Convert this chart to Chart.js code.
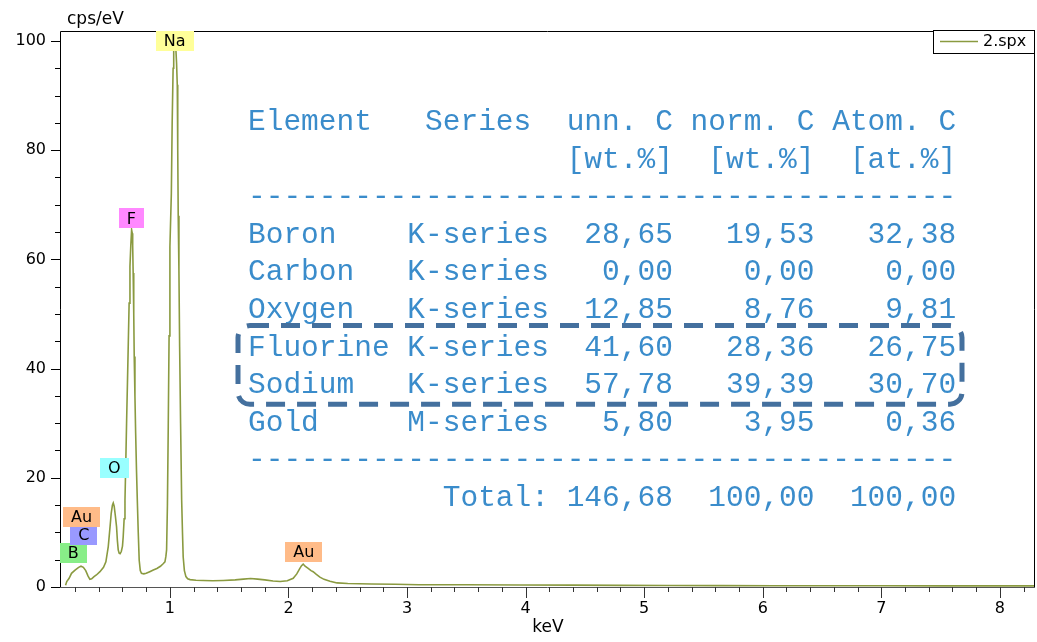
<!DOCTYPE html>
<html><head><meta charset="utf-8">
<script src="https://cdn.jsdelivr.net/npm/chart.js@4/dist/chart.umd.min.js"></script>
<style>html,body{margin:0;padding:0;background:#fff;overflow:hidden}#wrap{width:1037px;height:642px}</style>
</head><body><div id="wrap"><canvas id="c" width="1037" height="642"></canvas></div>
<script>
// ---- data ----
const energyKeV = [0.12,0.13,0.15,0.17,0.2,0.23,0.25,0.27,0.29,0.31,0.325,0.34,0.36,0.38,0.41,0.44,0.46,0.48,0.495,0.505,0.515,0.522,0.53,0.54,0.55,0.557,0.564,0.572,0.58,0.59,0.6,0.606,0.614,0.621,0.628,0.635,0.642,0.649,0.656,0.663,0.67,0.677,0.682,0.686,0.69,0.695,0.699,0.705,0.711,0.718,0.725,0.733,0.741,0.75,0.76,0.78,0.8,0.83,0.86,0.89,0.92,0.945,0.958,0.966,0.972,0.979,0.986,0.993,1.0,1.012,1.019,1.027,1.032,1.04,1.048,1.056,1.062,1.066,1.07,1.076,1.082,1.09,1.099,1.106,1.112,1.122,1.135,1.15,1.17,1.22,1.28,1.36,1.45,1.55,1.62,1.68,1.74,1.8,1.87,1.93,1.99,2.04,2.07,2.096,2.11,2.124,2.14,2.166,2.19,2.208,2.235,2.265,2.3,2.35,2.41,2.5,2.7,2.9,3.1,3.5,3.95,4.4,4.8,5.2,5.65,6.1,6.5,7.0,7.5,8.0,8.3];
const countsCps = [0.3,1.0,1.6,2.5,3.1,3.6,3.8,3.6,3.0,2.0,1.4,1.5,1.9,2.2,2.8,3.6,4.6,7.4,11.0,13.5,15.0,15.4,14.8,13.0,11.0,8.5,6.8,6.2,6.1,6.5,7.5,9.2,12.5,15.9,23.0,30.6,37.5,44.7,52.0,58.7,62.5,65.4,64.8,62.5,57.5,50.0,42.2,35.0,28.2,21.5,15.9,10.0,4.9,3.0,2.5,2.4,2.5,2.8,3.1,3.4,3.8,4.3,4.6,5.6,6.8,15.0,29.4,46.0,62.3,72.0,85.0,95.0,99.5,101.2,99.5,96.0,92.0,80.0,68.0,58.0,44.0,30.0,16.0,10.0,5.5,3.0,1.9,1.5,1.35,1.25,1.2,1.15,1.2,1.3,1.45,1.55,1.45,1.3,1.1,1.0,1.15,1.6,2.4,3.4,3.9,4.2,3.8,3.4,3.0,2.8,2.3,1.8,1.4,1.05,0.75,0.65,0.55,0.5,0.4,0.4,0.37,0.34,0.3,0.28,0.25,0.24,0.23,0.22,0.21,0.2,0.2];
const xTickValues = [1,2,3,4,5,6,7,8];
const yTickValues = [0,20,40,60,80,100];
const seriesName = '2.spx';
const peakNames = ['B','C','Au','O','F','Na','Au'];
const peakEnergy = [0.185,0.275,0.255,0.53,0.675,1.04,2.13];
const peakLabelY = [6.2,9.5,12.8,21.8,67.5,100,6.4];
const peakColors = ['#88ee88','#9999ff','#ffbb88','#99ffff','#ff88ff','#ffff99','#ffbb88'];
const tableLines = [
 'Element   Series  unn. C norm. C Atom. C',
 '                  [wt.%]  [wt.%]  [at.%]',
 '----------------------------------------',
 'Boron    K-series  28,65   19,53   32,38',
 'Carbon   K-series   0,00    0,00    0,00',
 'Oxygen   K-series  12,85    8,76    9,81',
 'Fluorine K-series  41,60   28,36   26,75',
 'Sodium   K-series  57,78   39,39   30,70',
 'Gold     M-series   5,80    3,95    0,36',
 '----------------------------------------',
 '           Total: 146,68  100,00  100,00'
];
const highlightRows = [6,7];

const LINE = '#8a9a40';
const FONT = '"DejaVu Sans", Verdana, sans-serif';

const deco = {
  id:'deco',
  afterDraw(chart){
    const ctx = chart.ctx, xs = chart.scales.x, ys = chart.scales.y, a = chart.chartArea;
    ctx.save();
    // frame
    ctx.lineWidth = 1;
    ctx.strokeStyle = '#000';
    ctx.beginPath();
    ctx.moveTo(a.left+0.5, a.bottom); ctx.lineTo(a.left+0.5, a.top+0.5);
    ctx.lineTo(a.right-0.5, a.top+0.5); ctx.lineTo(a.right-0.5, a.bottom);
    ctx.stroke();
    ctx.strokeStyle = '#555';
    ctx.beginPath(); ctx.moveTo(a.left, a.bottom+0.5); ctx.lineTo(a.right, a.bottom+0.5); ctx.stroke();
    // x ticks
    ctx.strokeStyle = '#333';
    ctx.beginPath();
    for (let k=1;k<=41;k++){
      const v = k*0.2; const px = Math.round(xs.getPixelForValue(v))+0.5;
      if (px < a.left || px > a.right) continue;
      const len = (k%5===0)?11:5;
      ctx.moveTo(px, a.bottom); ctx.lineTo(px, a.bottom+len);
    }
    ctx.stroke();
    // y ticks
    ctx.strokeStyle = '#000';
    ctx.beginPath();
    for (let v=0; v<=100; v+=5){
      const py = Math.round(ys.getPixelForValue(v))+0.5;
      const len = (v%20===0)?9:5;
      ctx.moveTo(a.left, py); ctx.lineTo(a.left-len, py);
    }
    ctx.stroke();
    // axis titles
    ctx.fillStyle = '#000';
    ctx.font = '17px '+FONT;
    ctx.textBaseline = 'middle';
    ctx.textAlign = 'left';
    ctx.fillText('cps/eV', 67, 20);
    ctx.textAlign = 'center';
    ctx.fillText('keV', 548, 628);
    // peak labels
    ctx.font = '16px '+FONT;
    peakNames.forEach((n,i)=>{
      const cx = xs.getPixelForValue(peakEnergy[i]), cy = ys.getPixelForValue(peakLabelY[i]);
      const w = ctx.measureText(n).width + 16, h = 20;
      ctx.fillStyle = peakColors[i];
      ctx.fillRect(Math.round(cx-w/2), Math.round(cy-h/2), Math.round(w), h);
      ctx.fillStyle = '#000';
      ctx.fillText(n, cx, cy+1);
    });
    // legend
    ctx.fillStyle = '#fff';
    ctx.fillRect(933.5, 30.5, 101, 23);
    ctx.strokeStyle = '#000';
    ctx.strokeRect(933.5, 30.5, 101, 23);
    ctx.strokeStyle = LINE; ctx.lineWidth = 1.5;
    ctx.beginPath(); ctx.moveTo(940, 41.5); ctx.lineTo(978, 41.5); ctx.stroke();
    ctx.fillStyle = '#000'; ctx.textAlign = 'left'; ctx.font = '16px '+FONT;
    ctx.fillText(seriesName, 983, 42);
    // table
    ctx.font = '29.5px "Liberation Mono", "Courier New", monospace';
    ctx.fillStyle = '#3a8ccb';
    ctx.textBaseline = 'alphabetic';
    ctx.textAlign = 'left';
    const tx = 248, ty0 = 130, lh = 37.6;
    tableLines.forEach((s,i)=> ctx.fillText(s, tx, ty0 + i*lh));
    // dashed highlight box
    const r0 = highlightRows[0], r1 = highlightRows[highlightRows.length-1];
    const bx = 238, by = ty0 + r0*lh - 30, bw = 724, bh = (r1-r0)*lh + 41;
    ctx.strokeStyle = '#44709e'; ctx.lineWidth = 5; ctx.setLineDash([19,12]);
    ctx.beginPath(); ctx.roundRect(bx, by, bw, bh, 12); ctx.stroke();
    ctx.restore();
  }
};

new Chart(document.getElementById('c'), {
  type:'line',
  data:{ datasets:[{ label: seriesName,
    data: energyKeV.map((e,i)=>({x:e, y:countsCps[i]})),
    borderColor: LINE, borderWidth: 1.6, pointRadius: 0, tension: 0, fill:false }]},
  options:{
    responsive:false, animation:false, devicePixelRatio:1,
    layout:{ padding:{ top:31, right:2, left:0, bottom:0 } },
    plugins:{ legend:{display:false}, tooltip:{enabled:false} },
    scales:{
      x:{ type:'linear', min:0.073, max:8.296,
        grid:{display:false}, border:{display:false},
        afterBuildTicks(s){ s.ticks = xTickValues.map(v=>({value:v})); },
        afterFit(s){ s.height = 55; },
        ticks:{ padding:4, color:'#000', font:{family:FONT, size:16}, maxRotation:0, autoSkip:false, callback:v=>String(v) } },
      y:{ type:'linear', min:0, max:101.83,
        grid:{display:false}, border:{display:false},
        afterBuildTicks(s){ s.ticks = yTickValues.map(v=>({value:v})); },
        afterFit(s){ s.width = 60; },
        ticks:{ padding:6, color:'#000', font:{family:FONT, size:16}, callback:v=>String(v) } }
    }
  },
  plugins:[deco]
});
</script></body></html>
